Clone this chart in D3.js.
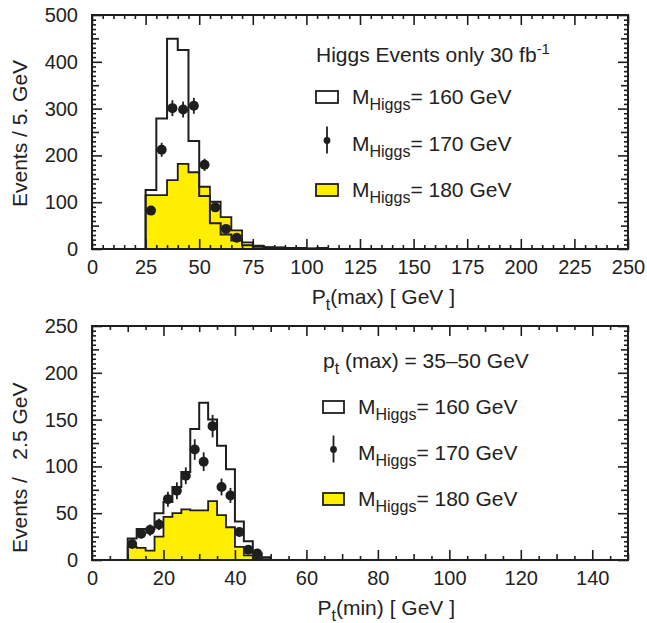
<!DOCTYPE html>
<html><head><meta charset="utf-8">
<script src="https://cdn.jsdelivr.net/npm/d3@7"></script>
<style>
html,body{margin:0;padding:0;background:#fff;}
svg{display:block;font-family:"Liberation Sans",Arial,Helvetica,sans-serif;}
text{fill:#222;}
</style></head><body>
<svg id="chart" width="647" height="623"></svg>
<script>
// ---------- data: upper panel (Pt max, 5 GeV bins) ----------
const topBinStarts = [25,30,35,40,45,50,55,60,65,70,75,80,85,90,95,100,105];
const topM160 = [126,279,449,425,231,113,55,31,18,8,5,3,3,2,2,1,2];
const topM180 = [115,115,147,182,164,133,101,68,40,14,7,4,3,2,1,1,1];
const topPointCenters = [27.5,32.5,37.5,42.5,47.5,52.5,57.5,62.5,67.5];
const topM170 = [82,212,301,298,306,180,89,43,24];
const topM170Err = [9,15,17,17,17,13,9,7,5];
const topXTicks = [0,25,50,75,100,125,150,175,200,225,250];
const topYTicks = [0,100,200,300,400,500];

// ---------- data: lower panel (Pt min, 2.5 GeV bins) ----------
const botBinStarts = [10,12.5,15,17.5,20,22.5,25,27.5,30,32.5,35,37.5,40,42.5,45,47.5];
const botM160 = [23,33,33,50,62,78,94,140,168,150,122,97,41,20,7,3];
const botM180 = [14,13,10,25,46,50,54,53,53,63,48,35,14,5,2,1];
const botPointCenters = [11.25,13.75,16.25,18.75,21.25,23.75,26.25,28.75,31.25,33.75,36.25,38.75,41.25,43.75,46.25];
const botM170 = [17,28,32,38,65,74,90,118,105,143,78,69,30,11,7];
const botM170Err = [4,5,6,6,8,9,9,11,10,12,9,8,5,3,3];
const botXTicks = [0,20,40,60,80,100,120,140];
const botYTicks = [0,50,100,150,200,250];

const legendLabels = ["= 160 GeV","= 170 GeV","= 180 GeV"];

// ---------- drawing ----------
const svg = d3.select("#chart");
const INK = "#1e1e1e";
const YELLOW = "#ffee00";
const LEFT = 92, RIGHT = 628;

function stepPoints(starts, vals){
  const w = starts[1]-starts[0];
  const pts = [[starts[0],0]];
  starts.forEach((s,i)=>{ pts.push([s,vals[i]]); pts.push([s+w,vals[i]]); });
  pts.push([starts[starts.length-1]+w,0]);
  return pts;
}

function drawPanel(cfg){
  const x = d3.scaleLinear().domain(cfg.xDomain).range([LEFT,RIGHT]);
  const y = d3.scaleLinear().domain(cfg.yDomain).range([cfg.bottom,cfg.top]);
  const g = svg.append("g");

  // 180 GeV filled histogram
  const yPts = stepPoints(cfg.binStarts, cfg.m180);
  g.append("path").datum(yPts)
    .attr("d", d3.area().x(d=>x(d[0])).y0(y(0)).y1(d=>y(d[1])))
    .attr("fill", YELLOW).attr("stroke","none");
  g.append("path").datum(yPts)
    .attr("d", d3.line().x(d=>x(d[0])).y(d=>y(d[1])))
    .attr("fill","none").attr("stroke",INK).attr("stroke-width",1.8);

  // 160 GeV open histogram
  const wPts = [[cfg.xDomain[0],0]].concat(stepPoints(cfg.binStarts, cfg.m160));
  g.append("path").datum(wPts)
    .attr("d", d3.line().x(d=>x(d[0])).y(d=>y(d[1])))
    .attr("fill","none").attr("stroke",INK).attr("stroke-width",2)
    .attr("stroke-linejoin","miter");

  // 170 GeV points with error bars
  const pts = cfg.pointCenters.map((c,i)=>({c, v:cfg.m170[i], e:cfg.m170Err[i]}));
  g.selectAll(".eb").data(pts).enter().append("line")
    .attr("x1",d=>x(d.c)).attr("x2",d=>x(d.c))
    .attr("y1",d=>y(d.v-d.e)).attr("y2",d=>y(d.v+d.e))
    .attr("stroke",INK).attr("stroke-width",1.8);
  g.selectAll(".pt").data(pts).enter().append("circle")
    .attr("cx",d=>x(d.c)).attr("cy",d=>y(d.v)).attr("r",5)
    .attr("fill",INK);

  // frame
  g.append("rect").attr("x",LEFT).attr("y",cfg.top)
    .attr("width",RIGHT-LEFT).attr("height",cfg.bottom-cfg.top)
    .attr("fill","none").attr("stroke",INK).attr("stroke-width",2);

  // ticks on all four sides, pointing inward
  function side(axisFn, scale, values, len, tr, labels, pad){
    const a = axisFn(scale).tickValues(values).tickSize(-len).tickPadding(pad||0)
      .tickFormat(labels ? d3.format("d") : "");
    const ag = g.append("g").attr("transform",tr).call(a);
    ag.select(".domain").remove();
    ag.selectAll(".tick line").attr("stroke",INK).attr("stroke-width",1.6);
    ag.selectAll("text").attr("font-size",20).attr("fill",INK)
      .attr("font-family",'"Liberation Sans",Arial,sans-serif');
    return ag;
  }
  const rng = (a,b,s)=>d3.range(a,b+1e-9,s);
  const notIn = (arr, steps)=>arr.filter(v=>steps.every(s=>Math.abs(v/s-Math.round(v/s))>1e-6));

  const xMaj = cfg.xTicks;
  const xMed = cfg.xMedStep ? notIn(rng(cfg.xDomain[0],cfg.xDomain[1],cfg.xMedStep),[cfg.xMajStep]) : [];
  const xMin = notIn(rng(cfg.xDomain[0],cfg.xDomain[1],cfg.xMinStep),[cfg.xMajStep].concat(cfg.xMedStep?[cfg.xMedStep]:[]));
  const yMaj = cfg.yTicks;
  const yMed = notIn(rng(cfg.yDomain[0],cfg.yDomain[1],cfg.yMedStep),[cfg.yMajStep]);
  const yMin = notIn(rng(cfg.yDomain[0],cfg.yDomain[1],cfg.yMinStep),[cfg.yMajStep,cfg.yMedStep]);

  [[xMaj,10,true],[xMed,6,false],[xMin,4,false]].forEach(([vals,len,lab])=>{
    side(d3.axisBottom,x,vals,len,`translate(0,${cfg.bottom})`,lab,11);
    side(d3.axisTop,x,vals,len,`translate(0,${cfg.top})`,false);
  });
  [[yMaj,10,true],[yMed,7,false],[yMin,4,false]].forEach(([vals,len,lab])=>{
    side(d3.axisLeft,y,vals,len,`translate(${LEFT},0)`,lab,14);
    side(d3.axisRight,y,vals,len,`translate(${RIGHT},0)`,false);
  });

  // axis titles
  const xt = g.append("text").attr("x",RIGHT-173).attr("y",cfg.bottom+55)
    .attr("text-anchor","end").attr("font-size",21).attr("fill",INK);
  xt.append("tspan").text("P");
  xt.append("tspan").attr("dy",6).attr("font-size",16).text("t");
  xt.append("tspan").attr("dy",-6).text(cfg.xTitleRest);

  g.append("text").attr("transform",`translate(27,${cfg.bottom-cfg.yTitleLift}) rotate(-90)`)
    .attr("text-anchor","start").attr("font-size",21).attr("fill",INK)
    .style("white-space","pre").text(cfg.yTitle);

  // legend
  const L = cfg.legend;
  const title = g.append("text").attr("x",L.x).attr("y",L.titleY)
    .attr("font-size",21).attr("fill",INK);
  cfg.legendTitle(title);

  legendLabels.forEach((lab,i)=>{
    const by = L.entryY[i];
    if(i===1){
      g.append("line").attr("x1",L.x+L.boxW/2).attr("x2",L.x+L.boxW/2)
        .attr("y1",by-24).attr("y2",by+3).attr("stroke",INK).attr("stroke-width",1.8);
      g.append("circle").attr("cx",L.x+L.boxW/2).attr("cy",by-10).attr("r",3.4).attr("fill",INK);
    } else {
      g.append("rect").attr("x",L.x).attr("y",by-13).attr("width",L.boxW).attr("height",12)
        .attr("fill",i===0?"#fff":YELLOW).attr("stroke",INK).attr("stroke-width",1.8);
    }
    const t = g.append("text").attr("x",L.textX).attr("y",by).attr("font-size",21).attr("fill",INK);
    t.append("tspan").text("M");
    t.append("tspan").attr("dy",6).attr("font-size",16).text("Higgs");
    t.append("tspan").attr("dy",-6).text(lab);
  });
}

drawPanel({
  xDomain:[0,250], yDomain:[0,500], top:15, bottom:249,
  binStarts:topBinStarts, m160:topM160, m180:topM180,
  pointCenters:topPointCenters, m170:topM170, m170Err:topM170Err,
  xTicks:topXTicks, yTicks:topYTicks,
  xMajStep:25, xMedStep:null, xMinStep:5,
  yMajStep:100, yMedStep:50, yMinStep:10,
  xTitleRest:"(max) [ GeV ]", yTitle:"Events / 5. GeV", yTitleLift:42,
  legend:{x:316, textX:352, boxW:22, titleY:62, entryY:[104,150.5,197]},
  legendTitle:(t)=>{
    t.append("tspan").text("Higgs Events only 30 fb");
    t.append("tspan").attr("dy",-8).attr("font-size",15).text("-1");
  }
});

drawPanel({
  xDomain:[0,150], yDomain:[0,250], top:326, bottom:560,
  binStarts:botBinStarts, m160:botM160, m180:botM180,
  pointCenters:botPointCenters, m170:botM170, m170Err:botM170Err,
  xTicks:botXTicks, yTicks:botYTicks,
  xMajStep:20, xMedStep:10, xMinStep:5,
  yMajStep:50, yMedStep:25, yMinStep:5,
  xTitleRest:"(min) [ GeV ]", yTitle:"Events /   2.5 GeV", yTitleLift:7,
  legend:{x:323, textX:358, boxW:21, titleY:368, entryY:[414,459.5,506]},
  legendTitle:(t)=>{
    t.append("tspan").text("p");
    t.append("tspan").attr("dy",6).attr("font-size",16).text("t");
    t.append("tspan").attr("dy",-6).text(" (max) = 35\u201350 GeV");
  }
});
</script>
</body></html>
